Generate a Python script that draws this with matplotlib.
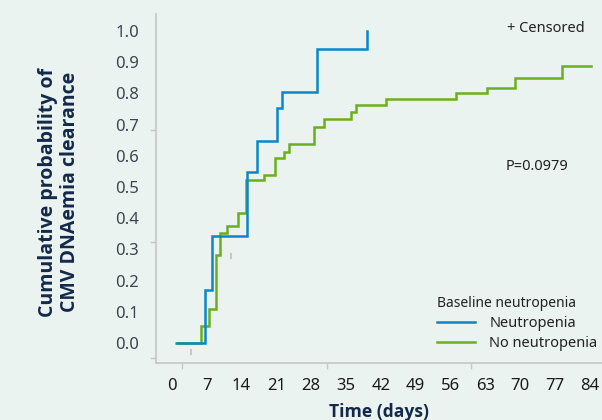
"""
Kaplan-Meier style plot: cumulative probability of CMV DNAemia clearance
by baseline neutropenia
"""
import matplotlib
matplotlib.use('Agg')
import matplotlib.pyplot as plt

plt.rcParams['font.family'] = ['Noto Sans', 'DejaVu Sans']

# ---- data ----
neut_days = [1.0, 6.6, 8.0, 15.1, 17.1, 21.1, 22.1, 29.2, 39.2]
neut_prob = [0.0, 0.17, 0.343, 0.548, 0.647, 0.753, 0.804, 0.942, 1.0]

noneut_days = [0.8, 5.8, 7.5, 8.85, 9.65, 11.1, 13.2, 15.0, 18.5, 20.8, 22.5,
               23.6, 28.6, 30.6, 36.0, 37.0, 43.1, 57.1, 63.3, 69.0, 78.5, 84.3]
noneut_prob = [0.0, 0.053, 0.110, 0.282, 0.354, 0.375, 0.416, 0.521, 0.539,
               0.592, 0.613, 0.637, 0.693, 0.717, 0.740, 0.764, 0.781, 0.801,
               0.817, 0.850, 0.887, 0.887]

censor_days = [3.8, 11.9]
censor_prob = [-0.03, 0.28]

x_ticks = list(range(0, 85, 7))
y_ticks = [0.0, 0.1, 0.2, 0.3, 0.4, 0.5, 0.6, 0.7, 0.8, 0.9, 1.0]

# stray tick marks of the original axes
x_marks = [2.0, 31.2, 60.2]
y_marks = [-0.048, 0.324, 0.683]

BG = '#eaf3ef'
BLUE = '#0a86c9'
GREEN = '#6cae1c'
NAVY = '#13294b'
BOLD_FONT = ['Open Sans', 'Lato', 'DejaVu Sans']

fig = plt.figure(figsize=(6.02, 4.2), dpi=100, facecolor=BG)
ax = fig.add_axes([156 / 602, 57 / 420, 446 / 602, 349 / 420])
ax.set_facecolor(BG)

ax.step(noneut_days, noneut_prob, where='post', color=GREEN, lw=1.8,
        label='No neutropenia', solid_joinstyle='miter')
ax.step(neut_days, neut_prob, where='post', color=BLUE, lw=1.8,
        label='Neutropenia', solid_joinstyle='miter')
ax.plot(censor_days, censor_prob, ls='none', marker='|', ms=5, mew=1.5,
        color='#c4c8c8')

ax.set_xlim(-3.2, 86.5)
ax.set_ylim(-0.064, 1.054)

# labelled ticks without marks
ax.set_xticks(x_ticks)
ax.set_xticklabels([str(t) for t in x_ticks])
ax.set_yticks(y_ticks)
ax.set_yticklabels([f'{t:.1f}' for t in y_ticks])
ax.tick_params(axis='x', which='major', length=0, pad=11, labelsize=12,
               labelcolor='#1a1a1a')
ax.tick_params(axis='y', which='major', length=0, pad=12, labelsize=12,
               labelcolor='#3d4650')

# unlabelled tick marks
ax.set_xticks(x_marks, minor=True)
ax.set_yticks(y_marks, minor=True)
ax.tick_params(which='minor', length=4, width=1, color='#c4c8c8')

for side in ['top', 'right']:
    ax.spines[side].set_visible(False)
for side in ['left', 'bottom']:
    ax.spines[side].set_color('#c4c8c8')
    ax.spines[side].set_linewidth(1.2)

ax.set_xlabel('Time (days)', fontsize=12.6, fontweight='bold', color=NAVY,
              labelpad=6, family=BOLD_FONT)
fig.text(59 / 602, 1 - 192 / 420,
         'Cumulative probability of\nCMV DNAemia clearance',
         rotation=90, ha='center', va='center', fontsize=14,
         fontweight='bold', color=NAVY, linespacing=1.15, family=BOLD_FONT)

fig.text(546 / 602, 1 - 28 / 420, '+ Censored', ha='center', va='center',
         fontsize=10.5, color='#222222')
fig.text(537 / 602, 1 - 167 / 420, 'P=0.0979', ha='center', va='center',
         fontsize=10.5, color='#222222')

handles, labels = ax.get_legend_handles_labels()
leg = ax.legend(handles[::-1], labels[::-1], title='Baseline neutropenia',
                loc='upper left', bbox_to_anchor=(425 / 602, 1 - 284 / 420),
                bbox_transform=fig.transFigure, frameon=False, fontsize=10.5,
                title_fontsize=10, handlelength=2.6, handletextpad=1.0,
                labelspacing=0.35, alignment='left', borderpad=0.3)
leg.get_title().set_color('#222222')
for t in leg.get_texts():
    t.set_color('#222222')

fig.savefig('out.png', dpi=100, facecolor=BG)
